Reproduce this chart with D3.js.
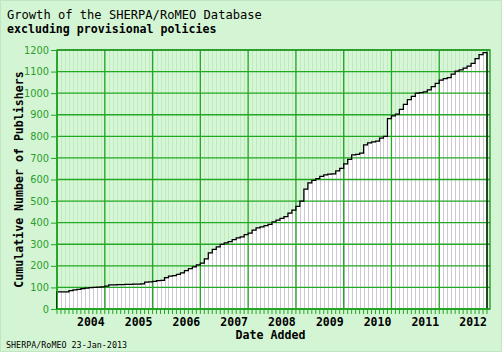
<!DOCTYPE html>
<html><head><meta charset="utf-8">
<script src="https://cdn.jsdelivr.net/npm/d3@7"></script>
<style>
html,body{margin:0;padding:0;background:#d4f5d4;}
svg{display:block;}
</style></head>
<body>
<script>
// ---- data ----
const startMonth = new Date(2003, 10, 1);   // first monthly bar (Nov 2003)
const endMonth = new Date(2012, 10, 1);     // exclusive
const months = d3.timeMonth.range(startMonth, endMonth);
const cumulative = [
  79, 79, 79, 85, 89, 91, 94, 97, 99, 100, 101, 102,
  106, 112, 112, 113, 113, 114, 114, 115, 115, 116, 125, 126,
  128, 132, 133, 145, 152, 155, 160, 167, 178, 187, 195, 205,
  212, 232, 260, 276, 288, 300, 306, 312, 322, 330, 334, 345,
  352, 365, 376, 380, 386, 392, 404, 412, 420, 428, 444, 458,
  476, 500, 555, 584, 596, 604, 614, 622, 625, 626, 640, 652,
  672, 693, 714, 716, 722, 760, 770, 774, 778, 792, 800, 882,
  895, 903, 925, 948, 970, 985, 1000, 1002, 1006, 1015, 1030, 1045,
  1060, 1067, 1072, 1088, 1102, 1108, 1116, 1125, 1138, 1160, 1178, 1188
];
const yearLabels = ["2004","2005","2006","2007","2008","2009","2010","2011","2012"];
const yTicks = [0,100,200,300,400,500,600,700,800,900,1000,1100,1200];
const titleText = "Growth of the SHERPA/RoMEO Database";
const subtitleText = "excluding provisional policies";
const yTitle = "Cumulative Number of Publishers";
const xTitle = "Date Added";
const footer = "SHERPA/RoMEO 23-Jan-2013";

// ---- layout ----
const W = 502, H = 352;
const L = 57, R = 487, FR = 490, T = 50, B = 309;
const green = "#22a822", labelGreen = "#2a9d2a";
const mono = "'DejaVu Sans Mono', 'Liberation Mono', monospace";

const svg = d3.select("body").append("svg").attr("width", W).attr("height", H);
svg.append("rect").attr("x",0.5).attr("y",0.5).attr("width",W-1).attr("height",H-1)
  .attr("fill","#d4f5d4").attr("stroke","#c2e6c2");

const x = d3.scaleBand().domain(d3.range(months.length)).range([L, R]).padding(0);
const y = d3.scaleLinear().domain([0, 1200]).range([B, T]);

// plot background
svg.append("rect").attr("x",L).attr("y",T).attr("width",FR-L).attr("height",B-T).attr("fill","#d6f7d6");

// faint monthly lines
svg.append("g").selectAll("line").data(d3.range(months.length+1)).join("line")
  .attr("x1", i => Math.round(L + i*x.bandwidth())+0.5).attr("x2", i => Math.round(L + i*x.bandwidth())+0.5)
  .attr("y1", T).attr("y2", B).attr("stroke","#c3e6c3").attr("stroke-width",1);

// bars
svg.append("g").selectAll("rect").data(cumulative).join("rect")
  .attr("x", (d,i) => Math.round(x(i))+0.5)
  .attr("width", x.bandwidth())
  .attr("y", d => y(d)).attr("height", d => B - y(d))
  .attr("fill","#ffffff").attr("stroke","#cfc8d3").attr("stroke-width",1);

// horizontal gridlines
svg.append("g").selectAll("line").data(yTicks).join("line")
  .attr("x1", L).attr("x2", FR).attr("y1", d => y(d)).attr("y2", d => y(d))
  .attr("stroke", green).attr("stroke-width",1.3);

// vertical gridlines every 12 months
svg.append("g").selectAll("line").data(d3.range(0, months.length+1, 12)).join("line")
  .attr("x1", i => L + i*x.bandwidth()).attr("x2", i => L + i*x.bandwidth())
  .attr("y1", T).attr("y2", B).attr("stroke", green).attr("stroke-width",1.3);

// plot frame
svg.append("rect").attr("x",L).attr("y",T).attr("width",FR-L).attr("height",B-T)
  .attr("fill","none").attr("stroke","#1f8f1f").attr("stroke-width",1.3);

// step outline
const pts = [[x(0), 0]];
cumulative.forEach((v,i) => pts.push([x(i), v]));
pts.push([R, cumulative[cumulative.length-1]]);
pts.push([R, 0]);
const line = d3.line().x(d => d[0]).y(d => y(d[1])).curve(d3.curveStepAfter);
svg.append("path").attr("d", line(pts)).attr("fill","none").attr("stroke","#000").attr("stroke-width",1.25);

// y axis
const yAxis = d3.axisLeft(y).tickValues(yTicks).tickFormat(d3.format("d")).tickSize(6).tickPadding(2);
const gy = svg.append("g").attr("transform",`translate(${L},0)`).call(yAxis);
gy.select(".domain").attr("stroke", green);
gy.selectAll(".tick line").attr("stroke", green);
gy.selectAll(".tick text").attr("fill", labelGreen).attr("font-family","'DejaVu Sans', sans-serif").attr("font-size","9.8px");

// x axis: monthly ticks
const gx = svg.append("g");
gx.append("line").attr("x1",L).attr("x2",FR).attr("y1",B).attr("y2",B).attr("stroke",green).attr("stroke-width",1.3);
gx.selectAll("line.mt").data(d3.range(months.length+1)).join("line").attr("class","mt")
  .attr("x1", i => L + i*x.bandwidth()).attr("x2", i => L + i*x.bandwidth())
  .attr("y1", B).attr("y2", B+5).attr("stroke", green).attr("stroke-width",1);

// year labels at July of each year
const yearIdx = yearLabels.map(yl => months.findIndex(m => m.getFullYear() === +yl && m.getMonth() === 6));
svg.append("g").selectAll("text").data(yearLabels).join("text")
  .attr("x", (d,i) => x(yearIdx[i]) + x.bandwidth()/2).attr("y", 326)
  .attr("text-anchor","middle").attr("font-family",mono).attr("font-weight","bold").attr("font-size","11.5px")
  .attr("fill","#000").text(d => d);

// titles
svg.append("text").attr("x",7).attr("y",19).attr("font-family",mono).attr("font-size","12.1px").attr("fill","#000").text(titleText);
svg.append("text").attr("x",7).attr("y",33).attr("font-family",mono).attr("font-weight","bold").attr("font-size","11.6px").attr("fill","#000").text(subtitleText);
svg.append("text").attr("x",(L+FR)/2 - 3).attr("y",339).attr("text-anchor","middle").attr("font-family",mono).attr("font-weight","bold").attr("font-size","11.6px").attr("fill","#000").text(xTitle);
svg.append("text").attr("transform",`translate(23,${(T+B)/2}) rotate(-90)`).attr("text-anchor","middle")
  .attr("font-family",mono).attr("font-weight","bold").attr("font-size","11.6px").attr("fill","#000").text(yTitle);
svg.append("text").attr("x",6).attr("y",348).attr("font-family",mono).attr("font-size","8.4px").attr("fill","#000").text(footer);
</script>
</body></html>
